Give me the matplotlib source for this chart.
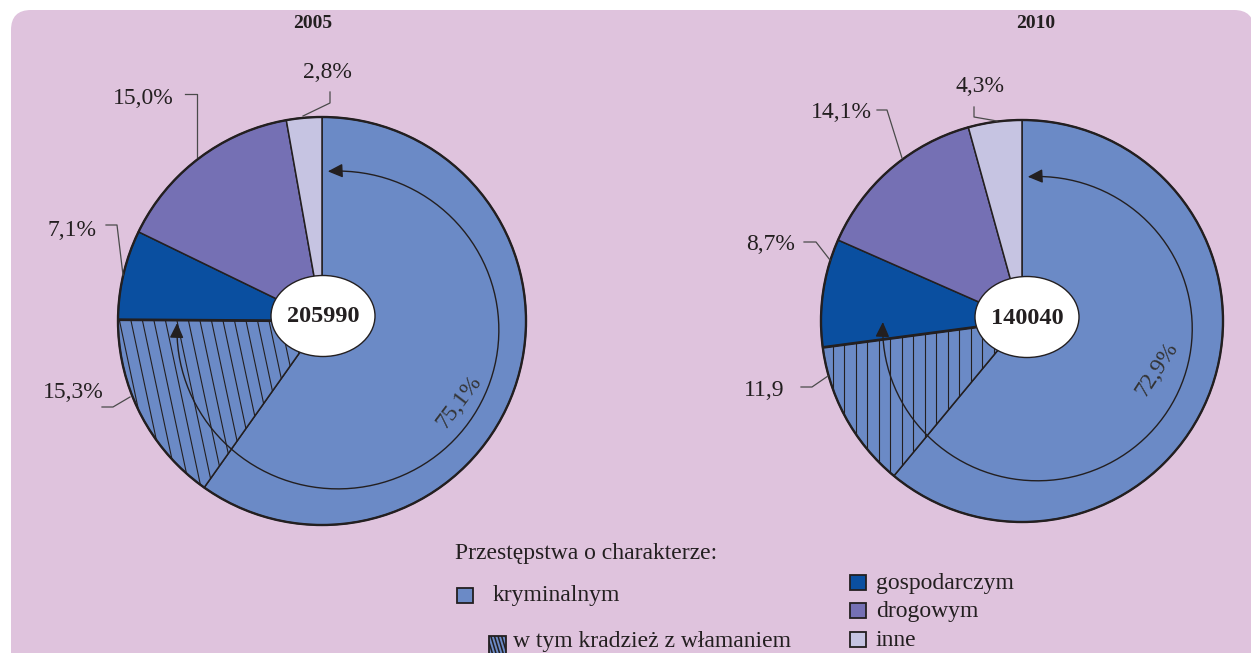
import numpy as np
import matplotlib
matplotlib.use('Agg')
import matplotlib.pyplot as plt
from matplotlib.patches import Ellipse, FancyBboxPatch, Rectangle, FancyArrowPatch, Circle, ArrowStyle
from matplotlib.path import Path
from matplotlib.collections import LineCollection

# ---------------- data ----------------
years = ['2005', '2010']
categories = ['kryminalnym', 'gospodarczym', 'drogowym', 'inne']
shares_2005 = [75.1, 7.1, 15.0, 2.8]
shares_2010 = [72.9, 8.7, 14.1, 4.3]
burglary_2005 = 15.3
burglary_2010 = 11.9
totals = [205990, 140040]
labels_2005 = ['75,1%', '7,1%', '15,0%', '2,8%']
labels_2010 = ['72,9%', '8,7%', '14,1%', '4,3%']
burglary_labels = ['15,3%', '11,9']
legend_title = 'Przestępstwa o charakterze:'
burglary_name = 'w tym kradzież z włamaniem'

# ---------------- style ----------------
W, H = 1251, 653
PINK = '#dfc3dd'
INK = '#231f20'
LEAD = '#4a4a4a'
colors = {'kryminalnym': '#6b8ac6', 'gospodarczym': '#0a4fa0',
          'drogowym': '#7570b4', 'inne': '#c6c4e2'}
SERIF = ['Liberation Serif', 'DejaVu Serif']
FS = 17

fig = plt.figure(figsize=(W / 100, H / 100), dpi=100)
fig.patch.set_facecolor('white')
ax = fig.add_axes([0, 0, 1, 1])

# background panel
ax.add_patch(FancyBboxPatch((11, 10), 1243, 700,
                            boxstyle='round,pad=0,rounding_size=20',
                            fc=PINK, ec='none', zorder=0))

pies = [
    dict(year=years[0], shares=shares_2005, burg=burglary_2005, labels=labels_2005,
         blabel=burglary_labels[0], total=totals[0],
         cx=322, cy=321, R=204, title=(313, 24),
         arc=(0.078, 0.044, 0.789, 0.779), ell=(323, 316),
         main_pos=(459, 402), main_rot=53, hatch_k=0.2126,
         lab=[None, (72, 230), (143, 99), (327, 72)],
         lead=[None,
               [(106, 225), (117, 225), (123, 275)],
               [(185, 94), (197, 94), (197, 157)],
               [(330, 92), (330, 103), (303, 116)]],
         blab=(73, 392), blead=[(102, 407), (113, 407), (130, 397)]),
    dict(year=years[1], shares=shares_2010, burg=burglary_2010, labels=labels_2010,
         blabel=burglary_labels[1], total=totals[1],
         cx=1022, cy=321, R=201, title=(1036, 24),
         arc=(0.077, 0.038, 0.77, 0.757), ell=(1027, 317),
         main_pos=(1157, 369), main_rot=57, hatch_k=0.0,
         lab=[None, (771, 244), (841, 113), (980, 86)],
         lead=[None,
               [(804, 242), (816, 242), (830, 260)],
               [(877, 110), (887, 110), (902, 158)],
               [(974, 107), (974, 117), (997, 121)]],
         blab=(764, 390), blead=[(801, 387), (812, 387), (828, 376)]),
]


def hatch_lines(clip, x0, x1, y0, y1, k, spacing, lw=0.8, z=2):
    segs = []
    span = y1 - y0
    for xs in np.arange(x0 - abs(k) * span - spacing, x1 + spacing, spacing):
        segs.append([(xs, y0), (xs + k * span, y1)])
    lc = LineCollection(segs, colors=INK, linewidths=lw, zorder=z)
    ax.add_collection(lc)
    lc.set_clip_path(clip)


for p in pies:
    cx, cy, R = p['cx'], p['cy'], p['R']
    s = p['shares']
    sizes = [s[0] - p['burg'], p['burg'], s[1], s[2], s[3]]
    cols = [colors['kryminalnym'], colors['kryminalnym'], colors['gospodarczym'],
            colors['drogowym'], colors['inne']]
    wedges, _ = ax.pie(sizes, colors=cols, startangle=-90, counterclock=True,
                       center=(cx, cy), radius=R, normalize=True,
                       wedgeprops=dict(edgecolor=INK, linewidth=1.1))
    for w in wedges:
        w.set_zorder(1)
    # hatch on burglary slice
    hatch_lines(wedges[1], cx - R, cx + R, cy - R - 5, cy + R + 5, p['hatch_k'], 11.5)
    # thicker boundary above hatched slice
    th = np.deg2rad(wedges[1].theta2)
    ax.plot([cx, cx + R * np.cos(th)], [cy, cy + R * np.sin(th)],
            color=INK, lw=2.0, zorder=3, solid_capstyle='butt')
    ax.add_patch(Circle((cx, cy), R, fill=False, ec=INK, lw=1.7, zorder=3))

    # arc arrow
    dx, dy, a, b = p['arc']
    t = np.deg2rad(np.linspace(93.6, -182.5, 200))
    xs = cx + dx * R + a * R * np.cos(t)
    ys = cy + dy * R - b * R * np.sin(t)
    arr = FancyArrowPatch(path=Path(np.column_stack([xs, ys])),
                          arrowstyle=ArrowStyle('<|-|>', head_length=0.9, head_width=0.42),
                          mutation_scale=10, color=INK, lw=1.0, zorder=4)
    ax.add_patch(arr)

    # center ellipse with total
    ex, ey = p['ell']
    ax.add_patch(Ellipse((ex, ey), 104, 81, fc='white', ec=INK, lw=1.0, zorder=5))
    ax.text(ex, ey + 1, str(p['total']), ha='center', va='center', fontsize=17.5,
            fontweight='bold', family=SERIF, color=INK, zorder=6)

    # title
    ax.text(*p['title'], p['year'], ha='center', va='center', fontsize=14,
            fontweight='bold', family=SERIF, color=INK)

    # main share label (rotated)
    ax.text(*p['main_pos'], p['labels'][0], ha='center', va='center', fontsize=FS,
            rotation=p['main_rot'], family=SERIF, color='#333333', zorder=6)

    # other labels with leader lines
    for i in range(1, 4):
        ax.text(*p['lab'][i], p['labels'][i], ha='center', va='center', fontsize=FS,
                family=SERIF, color=INK)
        pts = np.array(p['lead'][i])
        ax.plot(pts[:, 0], pts[:, 1], color=LEAD, lw=0.9, zorder=6)
    ax.text(*p['blab'], p['blabel'], ha='center', va='center', fontsize=FS,
            family=SERIF, color=INK)
    pts = np.array(p['blead'])
    ax.plot(pts[:, 0], pts[:, 1], color=LEAD, lw=0.9, zorder=6)

# ---------------- legend ----------------
ax.text(455, 553, legend_title, ha='left', va='center', fontsize=FS,
        family=SERIF, color=INK)
ax.add_patch(Rectangle((457, 588), 16, 15, fc=colors['kryminalnym'], ec=INK, lw=1.3, zorder=3))
ax.text(493, 595, categories[0], ha='left', va='center', fontsize=FS,
        family=SERIF, color=INK)
hr = Rectangle((489, 636), 17, 18, fc=colors['kryminalnym'], ec=INK, lw=1.3, zorder=3)
ax.add_patch(hr)
hatch_lines(hr, 489, 506, 636, 654, 0.3, 3.6, lw=1.1, z=4)
ax.text(513, 642, burglary_name, ha='left', va='center', fontsize=FS,
        family=SERIF, color=INK)
for name, yc in zip(categories[1:], [583, 611, 640]):
    ax.add_patch(Rectangle((850, yc - 8), 16, 15, fc=colors[name], ec=INK, lw=1.3, zorder=3))
    ax.text(876, yc, name, ha='left', va='center', fontsize=FS,
            family=SERIF, color=INK)

ax.set_xlim(0, W)
ax.set_ylim(H, 0)
ax.set_aspect('auto')
ax.axis('off')
fig.savefig('out.png', dpi=100, facecolor='white')
